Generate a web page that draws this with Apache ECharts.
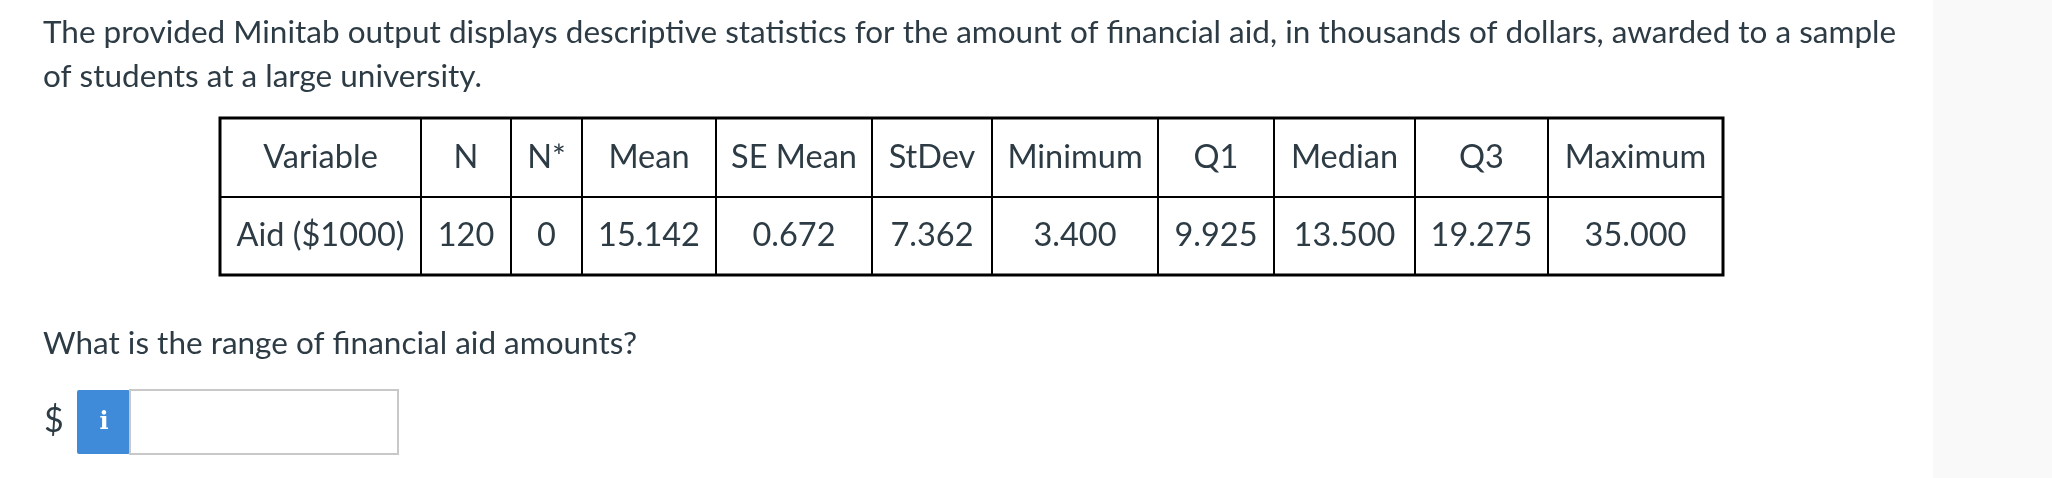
<!DOCTYPE html>
<html><head><meta charset="utf-8">
<script src="https://cdn.jsdelivr.net/npm/echarts@6/dist/echarts.min.js"></script>
<style>html,body{margin:0;padding:0;background:#fff}#c{width:2052px;height:478px}</style>
</head><body><div id="c"></div>
<script>
var titleLines = ["The provided Minitab output displays descriptive statistics for the amount of financial aid, in thousands of dollars, awarded to a sample", "of students at a large university."];
var headers = ["Variable","N","N*","Mean","SE Mean","StDev","Minimum","Q1","Median","Q3","Maximum"];
var values = ["Aid ($1000)","120","0","15.142","0.672","7.362","3.400","9.925","13.500","19.275","35.000"];
var question = "What is the range of financial aid amounts?";

var colEdges = [220,421,511,582,716,872,992,1158,1274,1415,1548,1723];
var rowEdges = [118,197,275];
var C = '#2d3b45', F = 'Lato';
var els = [];
els.push({type:'rect',shape:{x:1933,y:0,width:119,height:478},style:{fill:'#f9f9f9'}});
titleLines.forEach(function(t,i){
  els.push({type:'text',x:43,y:[33,77][i],style:{text:t,fill:C,font:'31.5px '+F,textVerticalAlign:'middle'}});
});
els.push({type:'rect',shape:{x:colEdges[0],y:rowEdges[0],width:colEdges[11]-colEdges[0],height:rowEdges[2]-rowEdges[0]},style:{fill:'none',stroke:'#000',lineWidth:3}});
els.push({type:'line',shape:{x1:colEdges[0],y1:rowEdges[1],x2:colEdges[11],y2:rowEdges[1]},style:{stroke:'#000',lineWidth:2}});
for(var i=1;i<colEdges.length-1;i++){
  els.push({type:'line',shape:{x1:colEdges[i],y1:rowEdges[0],x2:colEdges[i],y2:rowEdges[2]},style:{stroke:'#000',lineWidth:2}});
}
[headers,values].forEach(function(row,r){
  row.forEach(function(t,i){
    els.push({type:'text',x:(colEdges[i]+colEdges[i+1])/2,y:(rowEdges[r]+rowEdges[r+1])/2,
      style:{text:t,fill:C,font:'32.5px '+F,textAlign:'center',textVerticalAlign:'middle'}});
  });
});
els.push({type:'text',x:43,y:344,style:{text:question,fill:C,font:'31.5px '+F,textVerticalAlign:'middle'}});
els.push({type:'text',x:44,y:421,style:{text:'$',fill:C,font:'34px '+F,textVerticalAlign:'middle'}});
els.push({type:'rect',shape:{x:77,y:390,width:53,height:64,r:2},style:{fill:'#3f8ad9'}});
els.push({type:'text',x:104,y:423,style:{text:'i',fill:'#fff',font:'bold 24px "DejaVu Serif"',textAlign:'center',textVerticalAlign:'middle'}});
els.push({type:'rect',shape:{x:130,y:390,width:268,height:64},style:{fill:'#fff',stroke:'#c8c8c8',lineWidth:2}});

var chart = echarts.init(document.getElementById('c'));
chart.setOption({animation:false,graphic:{elements:els}});
</script></body></html>
